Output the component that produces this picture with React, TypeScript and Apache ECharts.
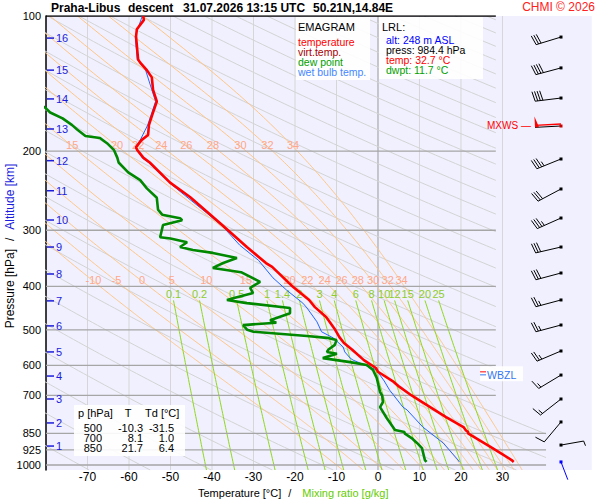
import React, { useEffect, useRef } from 'react';
import * as echarts from 'echarts';

const FONT = "'Liberation Sans', Arial, Helvetica, sans-serif";

// ---------- texts ----------
const titleStation = 'Praha-Libus';
const titleKind = 'descent';
const titleTime = '31.07.2026 13:15 UTC';
const titlePos = '50.21N,14.84E';
const copyright = 'CHMI © 2026';

// ---------- diagram furniture ----------
const isothermValues = [-70, -60, -50, -40, -30, -20, -10, 0, 10, 20, 30];
const isobarLevels = [100, 200, 300, 400, 500, 600, 700, 850, 925, 1000];
const altitudeKm = [16, 15, 14, 13, 12, 11, 10, 9, 8, 7, 6, 5, 4, 3, 2, 1];
const altitudePressure = [112, 132, 153, 178.5, 210, 245, 284.7, 327, 375.5, 431, 490, 560, 633.7, 712.9, 806, 907.4];
const moistThetaW = [-10, -5, 0, 5, 10, 15, 20, 22, 24, 26, 28, 30, 32, 34];
const mixingRatios = [0.1, 0.2, 0.5, 1, 1.4, 2, 3, 4, 6, 8, 10, 12, 15, 20, 25];
const dryThetas = [298.2, 312.8, 327.4, 342.0, 356.6, 371.2, 385.8, 400.4, 415.0, 429.6, 444.2, 458.8, 473.4, 488.0, 502.6, 517.2, 531.8, 546.4, 561.0, 575.6, 590.2, 604.8, 619.4, 634.0, 648.6, 663.2, 677.8, 692.4, 707.0, 721.6, 736.2, 750.8, 765.4];

// ---------- sounding ----------
const tempP = [100, 102, 107, 111, 125, 127, 132, 137, 146, 155, 166, 175, 184, 189, 196, 199, 207, 212, 235, 253, 289, 327, 355, 362, 393, 401, 429, 445, 468, 500, 519, 535, 554, 584, 608, 620, 653, 670, 700, 716, 782, 823, 838, 844, 850, 880, 917, 975, 984.4];
const tempT = [-56.6, -56.4, -58.1, -58.3, -57.8, -57.3, -55.7, -54.5, -54.2, -53.3, -54.4, -55.2, -55.4, -57, -58.3, -58, -56.5, -55, -50.1, -45.3, -38.1, -31.6, -27, -25.5, -21.5, -20.5, -16.6, -15.2, -12.5, -10.3, -9.3, -8.2, -6.2, -3.4, -0.5, 0, 3.8, 5.2, 8.1, 9.8, 16.4, 20.6, 21.2, 21.7, 21.7, 24.4, 27.6, 32.2, 32.7];

const dewP = [157, 160, 164, 169, 175, 179, 185, 187, 192, 199, 207, 212, 223, 232, 242, 254, 270, 277, 282, 285, 292, 311, 313, 319, 327, 332, 337, 346, 355, 364, 372, 391, 403, 414, 423, 429, 436, 447, 459, 476, 482, 488, 500, 505, 516, 521, 527, 540, 554, 560, 565, 578, 590, 599, 614, 640, 688, 700, 724, 743, 786, 836, 844, 850, 871, 893, 917, 975, 984.4];
const dewT = [-82, -80.2, -79, -76, -73.7, -72.5, -70.5, -67, -65.3, -63.6, -62.8, -62.5, -60.2, -57.3, -55.7, -53.3, -53, -52, -47.7, -47.2, -51.8, -52.5, -50, -46, -47.7, -44.6, -39.8, -34, -37.3, -39.8, -33, -28.4, -30.8, -30.1, -34, -36.4, -31.6, -21.2, -21.2, -26, -24.5, -32.5, -31.5, -30, -17.1, -12.3, -10, -10.4, -12, -12.3, -9.9, -13.3, -6.7, -2.7, -1.2, -0.3, 0.5, 1.0, 1.2, 0.5, 2.1, 4.1, 6.4, 6.4, 8.1, 9.4, 10.6, 11.3, 11.7];

const wetP = [100, 111, 125, 132, 146, 155, 175, 189, 196, 207, 212, 238, 275, 295, 324, 350, 383, 408, 436, 447, 480, 505, 521, 546, 560, 578, 584, 614, 650, 681, 743, 754, 823, 893, 975, 984.4];
const wetT = [-56.8, -58.5, -58, -56, -54.5, -53.6, -55.5, -57.3, -58.5, -56.8, -55.3, -49.6, -41.2, -37.3, -33.3, -28.8, -25.3, -22, -18.1, -17.1, -14.7, -13.6, -10.8, -8.4, -8, -6.7, -6, -0.4, 1.5, 2.8, 6, 7, 10.8, 15.7, 19.3, 19.6];

// ---------- wind ----------
const windP = [111.4, 130.5, 152.3, 175.8, 208.2, 242.8, 281.8, 327.0, 373.6, 429, 487.8, 557.3, 630.5, 712.9, 802, 902.8, 984.4];
const windDir = [253, 255, 263, 267, 248, 242, 246, 257, 255, 255, 255, 247, 239, 232, 220, 80, 159];
const windSpeed = [30, 40, 40, 50, 35, 30, 35, 30, 30, 25, 25, 25, 15, 15, 10, 3, 2];
const mxwsIndex = 3;
const wbzlPressure = 625;

// ---------- tables ----------
const tablePressures = [500, 700, 850];
const tableT = [-10.3, 8.1, 21.7];
const tableTd = [-31.5, 1.0, 6.4];
const lrlAlt = 248;
const lrlPress = 984.4;
const lrlTemp = 32.7;
const lrlDwpt = 11.7;

// ---------- layout constants ----------
const T_MIN = -80;
const T_MAX = 51.5;
const P_TOP = 100;
const P_BOT = 1026;
const BARB_T = 44.1;
const WBZL_T = 24.6;
const MOIST_LABEL_P1 = 193.8;
const MOIST_LABEL_P2 = 387.4;
const MIX_TOP_P = 430;

function boundT(p: number) {
  if (p <= 700) return 28.4;
  if (p >= 850) return 40.5;
  const f = Math.log(p / 700) / Math.log(850 / 700);
  return 28.4 + f * (40.5 - 28.4);
}

function logspace(a: number, b: number, n: number) {
  const out: number[] = [];
  for (let i = 0; i <= n; i++) out.push(a * Math.pow(b / a, i / n));
  return out;
}

function clipRight(pts: number[][]) {
  const res: number[][] = [];
  for (let i = 0; i < pts.length; i++) {
    const [T, p] = pts[i];
    const ok = T <= boundT(p);
    if (i > 0) {
      const [T0, p0] = pts[i - 1];
      const ok0 = T0 <= boundT(p0);
      if (ok !== ok0) {
        const f0 = T0 - boundT(p0);
        const f1 = T - boundT(p);
        const t = f0 / (f0 - f1);
        res.push([T0 + t * (T - T0), p0 * Math.pow(p / p0, t)]);
      }
    }
    if (ok) res.push([T, p]);
  }
  return res;
}

const RD = 287.04, CP = 1005.7, LV = 2.501e6, EPS = 0.622;
function esat(tc: number) { return 6.112 * Math.exp(17.67 * tc / (tc + 243.5)); }
function dTdp(p: number, T: number) {
  const es = esat(T - 273.15);
  const rs = EPS * es / Math.max(p - es, 1e-3);
  return (RD * T + LV * rs) / (CP + LV * LV * rs * EPS / (RD * T * T)) / p;
}
function rk4(p: number, T: number, h: number) {
  const k1 = dTdp(p, T);
  const k2 = dTdp(p + h / 2, T + h / 2 * k1);
  const k3 = dTdp(p + h / 2, T + h / 2 * k2);
  const k4 = dTdp(p + h, T + h * k3);
  return T + h / 6 * (k1 + 2 * k2 + 2 * k3 + k4);
}
function moistCurve(thw: number) {
  const up: number[][] = [];
  let T = thw + 273.15, p = 1000;
  up.push([T - 273.15, p]);
  while (p > P_TOP + 1e-9) {
    const h = Math.max(-2, P_TOP - p);
    T = rk4(p, T, h); p += h;
    up.push([T - 273.15, p]);
  }
  up.reverse();
  const down: number[][] = [];
  let T2 = thw + 273.15, p2 = 1000;
  while (p2 < P_BOT - 1e-9) {
    const h = Math.min(2, P_BOT - p2);
    T2 = rk4(p2, T2, h); p2 += h;
    down.push([T2 - 273.15, p2]);
  }
  return up.concat(down);
}
function interpT(pts: number[][], p: number) {
  for (let i = 1; i < pts.length; i++) {
    const [T0, p0] = pts[i - 1];
    const [T1, p1] = pts[i];
    if ((p0 - p) * (p1 - p) <= 0) {
      const t = p1 === p0 ? 0 : (p - p0) / (p1 - p0);
      return T0 + t * (T1 - T0);
    }
  }
  return NaN;
}
function mixingTd(w: number, p: number) {
  const e = w * p / (622 + w);
  const l = Math.log(e / 6.112);
  return 243.5 * l / (17.67 - l);
}

function lineSeries(data: number[][], color: string, width: number, z = 2) {
  return {
    type: 'line', data, showSymbol: false, symbol: 'none', silent: true, animation: false,
    lineStyle: { color, width }, z, clip: true, emphasis: { disabled: true },
  };
}

function textSeries(items: { T: number; p: number; text: string }[], style: any, dx: number, dy: number, z = 4) {
  return {
    type: 'custom', coordinateSystem: 'cartesian2d', clip: false, silent: true, z, animation: false,
    data: items.map(it => [it.T, it.p]),
    renderItem: (params: any, api: any) => {
      const it = items[params.dataIndex];
      const pt = api.coord([it.T, it.p]);
      return { type: 'text', x: pt[0] + dx, y: pt[1] + dy, style: { text: it.text, fontFamily: FONT, ...style } };
    },
  };
}

function gText(text: string, x: number, y: number, fill: string, size: number, extra: any = {}) {
  return {
    type: 'text', x, y, z: 60, silent: true,
    style: { text, fill, fontSize: size, fontFamily: FONT, verticalAlign: 'middle', align: 'left', ...extra },
  };
}

// multi-line text block (one element), lines 10px apart, first line centred at y
function gBlock(lines: { text: string; fill: string }[], x: number, y: number, size: number, align = 'left') {
  const rich: any = {};
  lines.forEach((l, i) => { rich['l' + i] = { fill: l.fill, fontSize: size, fontFamily: FONT, lineHeight: 10 }; });
  return {
    type: 'text', x, y: y - 5, z: 60, silent: true,
    style: {
      text: lines.map((l, i) => '{l' + i + '|' + l.text + '}').join('\n'),
      rich, fontSize: size, fontFamily: FONT, lineHeight: 10, verticalAlign: 'top', align,
    },
  };
}

function buildOption() {
  const series: any[] = [];

  isothermValues.forEach(T => {
    series.push(lineSeries([[T, P_TOP], [T, P_BOT]], T === 0 ? '#9a9a9a' : '#d6d6d6', 1, 1));
  });

  const pGrid = logspace(P_TOP, P_BOT, 160);
  dryThetas.forEach(th => {
    const pts = pGrid.map(p => [th * Math.pow(p / 1000, 0.286) - 370, p]);
    series.push(lineSeries(clipRight(pts), '#d3d3d3', 1, 1));
  });

  const moistLabels: { T: number; p: number; text: string }[] = [];
  moistThetaW.forEach(thw => {
    const pts = moistCurve(thw);
    series.push(lineSeries(clipRight(pts), '#ffc585', 1, 1));
    [MOIST_LABEL_P1, MOIST_LABEL_P2].forEach(lp => {
      const T = interpT(pts, lp);
      if (T > -77 && T < boundT(lp)) moistLabels.push({ T, p: lp, text: String(thw) });
    });
  });

  const mixLabels: { T: number; p: number; text: string }[] = [];
  const pMix = logspace(MIX_TOP_P, P_BOT, 60);
  mixingRatios.forEach(w => {
    const pts = pMix.map(p => [mixingTd(w, p), p]);
    series.push(lineSeries(clipRight(pts), '#8fd81a', 1, 2));
    mixLabels.push({ T: mixingTd(w, MIX_TOP_P), p: MIX_TOP_P, text: String(w) });
  });

  isobarLevels.forEach(p => {
    series.push(lineSeries([[T_MIN, p], [boundT(p), p]], p === 100 ? '#000000' : '#a6a6a6', p === 100 ? 1.5 : 1.3, 3));
  });

  series.push(textSeries(moistLabels, { fill: '#ffa78a', fontSize: 11, align: 'center', verticalAlign: 'middle' }, 1.5, 0, 4));
  series.push(textSeries(mixLabels, { fill: '#8fcc2a', fontSize: 11, align: 'center', verticalAlign: 'middle' }, 0, -6.5, 4));
  series.push(textSeries(isobarLevels.map(p => ({ T: T_MIN, p, text: String(p) })), { fill: '#000', fontSize: 11, align: 'right', verticalAlign: 'middle' }, -5, 0, 4));

  series.push({
    type: 'custom', coordinateSystem: 'cartesian2d', clip: false, silent: true, z: 5, animation: false,
    data: altitudePressure.map(p => [T_MIN, p]),
    renderItem: (params: any, api: any) => {
      const i = params.dataIndex;
      const pt = api.coord([T_MIN, altitudePressure[i]]);
      return {
        type: 'group', children: [
          { type: 'rect', shape: { x: pt[0] + 1, y: pt[1] - 0.75, width: 7, height: 1.5 }, style: { fill: '#1c1cdc' } },
          { type: 'text', x: pt[0] + 10, y: pt[1], style: { text: String(altitudeKm[i]), fill: '#1c1cdc', fontSize: 11, fontFamily: FONT, verticalAlign: 'middle', align: 'left' } },
        ],
      };
    },
  });

  series.push(lineSeries(wetP.map((p, i) => [wetT[i], p]), '#2266ff', 1, 6));
  series.push(lineSeries(dewP.map((p, i) => [dewT[i], p]), '#008800', 2.6, 7));
  series.push(lineSeries(tempP.map((p, i) => [tempT[i], p]), '#ff0000', 2.6, 8));

  series.push({
    type: 'custom', coordinateSystem: 'cartesian2d', clip: false, silent: true, z: 9, animation: false,
    data: windP.map(p => [BARB_T, p]),
    renderItem: (params: any, api: any) => {
      const i = params.dataIndex;
      const [sx, sy] = api.coord([BARB_T, windP[i]]);
      const isSurface = i === windP.length - 1;
      const color = isSurface ? '#0000ff' : '#000000';
      const d = windDir[i] * Math.PI / 180;
      const ux = Math.sin(d), uy = -Math.cos(d);
      const px = -uy, py = ux;
      const lean = 12 * Math.PI / 180;
      const bx = px * Math.cos(lean) + ux * Math.sin(lean);
      const by = py * Math.cos(lean) + uy * Math.sin(lean);
      const spd = windSpeed[i];
      const L = spd < 5 ? (isSurface ? 19 : 23) : 26;
      const ex = sx + L * ux, ey = sy + L * uy;
      const children: any[] = [];
      children.push({ type: 'line', shape: { x1: sx, y1: sy, x2: ex, y2: ey }, style: { stroke: color, lineWidth: 1 } });
      let s = Math.round(spd / 5) * 5;
      let pos = 0;
      const isMx = i === mxwsIndex;
      while (s >= 50) {
        const b0x = ex - pos * ux, b0y = ey - pos * uy;
        const b1x = ex - (pos + 4) * ux, b1y = ey - (pos + 4) * uy;
        children.push({ type: 'polygon', shape: { points: [[b0x, b0y], [b0x + 11 * px, b0y + 11 * py], [b1x, b1y]] }, style: { fill: isMx ? '#ff0000' : color } });
        pos += 5; s -= 50;
      }
      while (s >= 10) {
        const qx = ex - pos * ux, qy = ey - pos * uy;
        children.push({ type: 'line', shape: { x1: qx, y1: qy, x2: qx + 10 * bx, y2: qy + 10 * by }, style: { stroke: color, lineWidth: 1 } });
        pos += 2.6; s -= 10;
      }
      if (s >= 5) {
        const qx = ex - pos * ux, qy = ey - pos * uy;
        children.push({ type: 'line', shape: { x1: qx, y1: qy, x2: qx + 5 * bx, y2: qy + 5 * by }, style: { stroke: color, lineWidth: 1 } });
      }
      if (isMx) {
        children.push({ type: 'line', shape: { x1: sx, y1: sy + 2 * py, x2: ex, y2: ey + 2 * py }, style: { stroke: '#ff0000', lineWidth: 1.5 } });
        children.push({ type: 'text', x: sx - 74, y: sy - 1, style: { text: 'MXWS —', fill: '#ff0000', fontSize: 10, fontFamily: FONT, verticalAlign: 'middle', align: 'left' } });
      }
      children.push({ type: 'rect', shape: { x: sx - 1.5, y: sy - 1.5, width: 3, height: 3 }, style: { fill: isMx ? '#cc0000' : color } });
      return { type: 'group', children };
    },
  });

  series.push({
    type: 'custom', coordinateSystem: 'cartesian2d', clip: false, silent: true, z: 9, animation: false,
    data: [[WBZL_T, wbzlPressure]],
    renderItem: (params: any, api: any) => {
      const [x0, y0] = api.coord([WBZL_T, wbzlPressure]);
      return {
        type: 'group', children: [
          { type: 'rect', shape: { x: x0, y: y0 - 7, width: 43, height: 15 }, style: { fill: 'rgba(255,255,255,0.9)' } },
          { type: 'line', shape: { x1: x0, y1: y0 - 1.5, x2: x0 + 6, y2: y0 - 1.5 }, style: { stroke: '#ff0000', lineWidth: 1 } },
          { type: 'line', shape: { x1: x0, y1: y0 + 1.5, x2: x0 + 6, y2: y0 + 1.5 }, style: { stroke: '#3377ee', lineWidth: 1 } },
          { type: 'text', x: x0 + 7, y: y0 + 2, style: { text: 'WBZL', fill: '#3377ee', fontSize: 10.5, fontFamily: FONT, verticalAlign: 'middle', align: 'left' } },
        ],
      };
    },
  });

  const graphic: any[] = [
    gText(titleStation, 51, 8, '#000', 12, { fontWeight: 'bold' }),
    gText(titleKind, 128, 8, '#000', 12, { fontWeight: 'bold' }),
    gText(titleTime, 183, 8, '#000', 12, { fontWeight: 'bold' }),
    gText(titlePos, 313, 8, '#000', 12, { fontWeight: 'bold' }),
    gText(copyright, 595, 7, '#ff2020', 12, { align: 'right' }),

    { type: 'rect', z: 55, silent: true, shape: { x: 296, y: 17, width: 74, height: 63 }, style: { fill: 'rgba(255,255,255,0.9)' } },
    gText('EMAGRAM', 298, 27, '#000', 11),
    gBlock([
      { text: 'temperature', fill: '#ff0000' },
      { text: 'virt.temp.', fill: '#a80000' },
      { text: 'dew point', fill: '#00a000' },
      { text: 'wet bulb temp.', fill: '#4488ff' },
    ], 298, 42, 10.5),

    { type: 'rect', z: 55, silent: true, shape: { x: 379, y: 17, width: 104, height: 62 }, style: { fill: 'rgba(255,255,255,0.9)' } },
    gText('LRL:', 382, 27, '#000', 11),
    gBlock([
      { text: 'alt: ' + lrlAlt + ' m ASL', fill: '#0000ff' },
      { text: 'press: ' + lrlPress.toFixed(1) + ' hPa', fill: '#000000' },
      { text: 'temp: ' + lrlTemp.toFixed(1) + ' °C', fill: '#ff0000' },
      { text: 'dwpt: ' + lrlDwpt.toFixed(1) + ' °C', fill: '#00a000' },
    ], 386, 40, 10.5),

    { type: 'rect', z: 55, silent: true, shape: { x: 74, y: 405, width: 111, height: 51 }, style: { fill: 'rgba(255,255,255,0.9)' } },
    gText('p [hPa]', 78, 413, '#000', 11),
    gText('T', 128, 413, '#000', 11, { align: 'center' }),
    gText('Td [°C]', 145, 413, '#000', 11),
    gBlock(tablePressures.map(p => ({ text: String(p), fill: '#000' })), 102, 428, 11, 'right'),
    gBlock(tableT.map(v => ({ text: v.toFixed(1), fill: '#000' })), 143, 428, 11, 'right'),
    gBlock(tableTd.map(v => ({ text: v.toFixed(1), fill: '#000' })), 174, 428, 11, 'right'),

    {
      type: 'text', x: 198, y: 493, z: 60, silent: true,
      style: {
        text: '{a|Temperature [°C]}{s|/}{b|Mixing ratio [g/kg]}', fontSize: 11, fontFamily: FONT, verticalAlign: 'middle', align: 'left',
        rich: {
          a: { fill: '#000', fontSize: 11, fontFamily: FONT },
          s: { fill: '#000', fontSize: 11, fontFamily: FONT, padding: [0, 11, 0, 7] },
          b: { fill: '#66cc00', fontSize: 11, fontFamily: FONT },
        },
      },
    },
    {
      type: 'text', x: 10, y: 246, rotation: Math.PI / 2, z: 60, silent: true,
      style: {
        text: '{a|Pressure [hPa]}{s|/}{b|Altitude [km]}', fontSize: 12, fontFamily: FONT, verticalAlign: 'middle', align: 'center',
        rich: {
          a: { fill: '#000', fontSize: 12, fontFamily: FONT },
          s: { fill: '#000', fontSize: 12, fontFamily: FONT, padding: [0, 8, 0, 8] },
          b: { fill: '#1c1cdc', fontSize: 12, fontFamily: FONT },
        },
      },
    },
  ];

  return {
    animation: false,
    textStyle: { fontFamily: FONT },
    grid: { left: 46, top: 16, width: 545.7, height: 454, show: true, backgroundColor: '#f0f0fe', borderWidth: 0 },
    xAxis: {
      type: 'value', min: T_MIN, max: T_MAX, interval: 10,
      axisLine: { show: false, onZero: false }, axisTick: { show: false }, splitLine: { show: false },
      axisLabel: {
        formatter: (v: number) => (v >= -70 && v <= 30 ? String(v) : ''),
        fontSize: 12, color: '#000', margin: 1, fontFamily: FONT,
      },
    },
    yAxis: {
      type: 'log', logBase: 10, min: P_TOP, max: P_BOT, inverse: true,
      axisLine: { show: true, onZero: false, lineStyle: { color: '#000', width: 1.5 } },
      axisTick: { show: false }, axisLabel: { show: false }, splitLine: { show: false },
      minorTick: { show: false }, minorSplitLine: { show: false },
    },
    series,
    graphic,
  };
}

export default function App() {
  const ref = useRef<HTMLDivElement>(null);
  useEffect(() => {
    if (!ref.current) return;
    const chart = echarts.init(ref.current, undefined, { renderer: 'svg' });
    chart.setOption(buildOption() as any);
    return () => chart.dispose();
  }, []);
  return (
    <div
      ref={ref}
      style={{ position: 'fixed', left: 0, top: 0, width: 600, height: 500, background: '#ffffff' }}
    />
  );
}
